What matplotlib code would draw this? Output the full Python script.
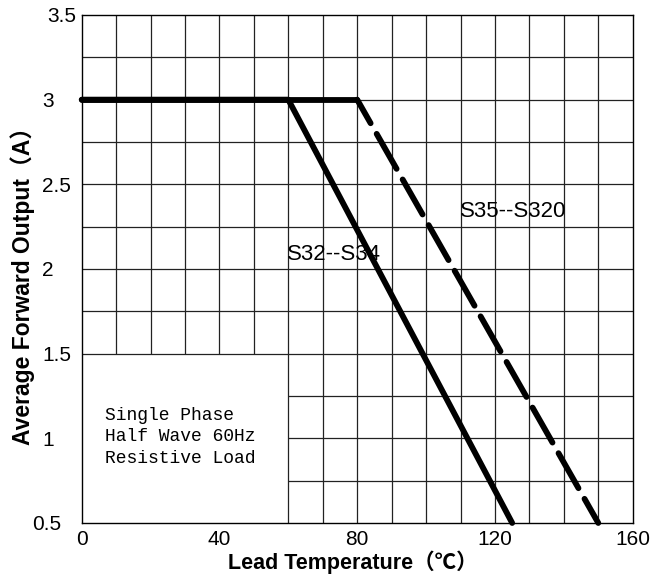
import matplotlib
matplotlib.use("Agg")
import matplotlib.pyplot as plt
import numpy as np

# derating curves
s32_temp = [0, 60, 125]
s32_current = [3.0, 3.0, 0.5]
s35_temp = [0, 80, 150]
s35_current = [3.0, 3.0, 0.5]

x_ticks = [0, 40, 80, 120, 160]
y_ticks = [0.5, 1, 1.5, 2, 2.5, 3, 3.5]
y_tick_labels = ["0.5", "1", "1.5", "2", "2.5", "3", "3.5"]

note_lines = ["Single Phase", "Half Wave 60Hz", "Resistive Load"]

SANS = ["Liberation Sans", "Noto Sans CJK SC", "DejaVu Sans"]
plt.rcParams["font.family"] = SANS

fig = plt.figure(figsize=(6.56, 5.74), dpi=100)
ax = fig.add_axes([0.1245, 0.0889, 0.8400, 0.8850])
ax.set_xlim(0, 160)
ax.set_ylim(0.5, 3.5)

# grid, leaving the lower-left corner free for the note
grid_kw = dict(colors="#222222", linewidth=0.9, zorder=1)
for gx in range(10, 160, 10):
    ax.vlines(gx, 1.5 if gx < 60 else 0.5, 3.5, **grid_kw)
for gy in np.arange(0.75, 3.5, 0.25):
    ax.hlines(gy, 0 if gy >= 1.5 else 60, 160, **grid_kw)

for sp in ax.spines.values():
    sp.set_linewidth(1.0)
    sp.set_color("black")

lw = 4.2
ax.plot(s32_temp, s32_current, color="black", lw=lw,
        solid_capstyle="round", solid_joinstyle="round", clip_on=False, zorder=3)
ax.plot(s35_temp[:2], s35_current[:2], color="black", lw=lw,
        solid_capstyle="round", clip_on=False, zorder=3)
ax.plot(s35_temp[1:], s35_current[1:], color="black", lw=lw,
        linestyle=(2.25, (6.9, 2.1)), dash_capstyle="round",
        clip_on=False, zorder=3)

ax.text(59.6, 2.053, "S32--S34", fontsize=16, va="baseline", ha="left")
ax.text(109.9, 2.307, "S35--S320", fontsize=16, va="baseline", ha="left")

# multi-line baseline alignment goes by the last line
ax.text(6.8, 0.854, "\n".join(note_lines), family="Liberation Mono",
        fontsize=13, va="baseline", ha="left", linespacing=1.35)

ax.set_xticks(x_ticks)
ax.set_xticklabels([str(t) for t in x_ticks])
ax.set_yticks(y_ticks)
ax.set_yticklabels(y_tick_labels, ha="left")
ax.tick_params(axis="x", length=0, pad=5, labelsize=15)
ax.tick_params(axis="y", length=0, pad=28.6, labelsize=15)
# the datasheet labels are not quite aligned
for lab in ax.get_yticklabels():
    if lab.get_text() == "3.5":
        lab.set_x(0.009)
    elif lab.get_text() == "0.5":
        lab.set_x(-0.018)

ax.set_xlabel("Lead Temperature（℃）", fontsize=15.5, fontweight="bold")
ax.xaxis.set_label_coords(0.4915, -0.077)
ax.xaxis.label.set_va("center")
ax.set_ylabel("Average Forward Output（A）", fontsize=16.5, fontweight="bold")
ax.yaxis.set_label_coords(-0.108, 0.478)
ax.yaxis.label.set_va("center")

fig.savefig("out.png", dpi=100)
